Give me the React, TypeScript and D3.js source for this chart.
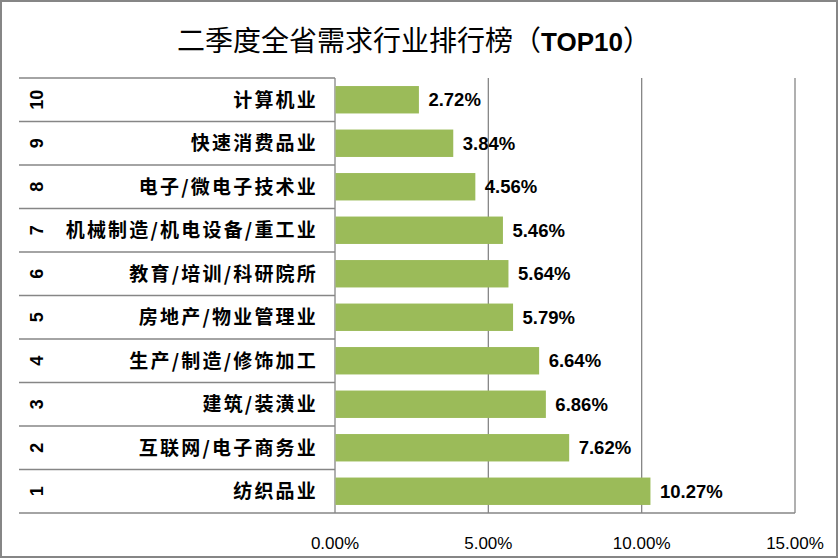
import React from "react";
import * as d3 from "d3";

const ranks = ["10", "9", "8", "7", "6", "5", "4", "3", "2", "1"];
const industries = [
  "计算机业",
  "快速消费品业",
  "电子/微电子技术业",
  "机械制造/机电设备/重工业",
  "教育/培训/科研院所",
  "房地产/物业管理业",
  "生产/制造/修饰加工",
  "建筑/装潢业",
  "互联网/电子商务业",
  "纺织品业",
];
const shares = [2.72, 3.84, 4.56, 5.46, 5.64, 5.79, 6.64, 6.86, 7.62, 10.27];
const xTicks = [0, 5, 10, 15];
const titleMain = "二季度全省需求行业排行榜（";
const titleBold = "TOP10";
const titleEnd = "）";

const W = 839;
const H = 559;
const plotLeft = 335;
const plotRight = 795;
const plotTop = 78;
const plotBottom = 513;
const catLeft = 19;

export default function App() {
  const x = d3.scaleLinear().domain([0, 15]).range([plotLeft, plotRight]);
  const y = d3
    .scaleBand<string>()
    .domain(ranks)
    .range([plotTop, plotBottom])
    .paddingInner(0.37)
    .paddingOuter(0.185);
  const rows = d3.scaleBand<string>().domain(ranks).range([plotTop, plotBottom]);
  const grid = "#868686";
  const cjk = "'Noto Sans CJK SC', 'Noto Sans', sans-serif";
  const latin = "'Liberation Sans', Arial, sans-serif";

  return (
    <svg
      width={W}
      height={H}
      style={{ position: "absolute", left: 0, top: 0, background: "#fff" }}
    >
      <rect x={1} y={1} width={W - 3} height={H - 3} fill="#fff" stroke={grid} strokeWidth={2} />
      <text x={414} y={51} textAnchor="middle" fontFamily={cjk} fontSize={28} fill="#000">
        {titleMain}
        <tspan fontFamily={latin} fontWeight="bold" fontSize={26}>{titleBold}</tspan>
        {titleEnd}
      </text>

      {/* gridlines */}
      {xTicks.slice(1).map((t) => (
        <line key={t} x1={x(t)} x2={x(t)} y1={plotTop} y2={plotBottom} stroke={grid} strokeWidth={1.3} />
      ))}
      {/* category row separators */}
      {ranks.map((r) => (
        <line key={r} x1={catLeft} x2={plotLeft} y1={rows(r)!} y2={rows(r)!} stroke={grid} strokeWidth={1.3} />
      ))}
      <line x1={catLeft} x2={plotRight} y1={plotBottom} y2={plotBottom} stroke={grid} strokeWidth={1.3} />
      <line x1={plotLeft} x2={plotLeft} y1={plotTop} y2={plotBottom} stroke={grid} strokeWidth={1.3} />

      {/* bars */}
      {ranks.map((r, i) => (
        <rect key={r} x={x(0) + 0.5} y={y(r)!} width={x(shares[i]) - x(0)} height={y.bandwidth()} fill="#9BBB59" />
      ))}
      {/* data labels */}
      {ranks.map((r, i) => (
        <text
          key={r}
          x={x(shares[i]) + 10}
          y={y(r)! + y.bandwidth() / 2}
          dy="0.35em"
          fontFamily={latin}
          fontWeight="bold"
          fontSize={18.5}
          fill="#000"
        >
          {shares[i].toFixed(2)}%
        </text>
      ))}
      {/* category labels */}
      {ranks.map((r, i) => {
        const cy = rows(r)! + rows.bandwidth() / 2;
        return (
          <g key={r}>
            <text
              transform={`translate(37,${cy}) rotate(-90)`}
              textAnchor="middle"
              dy="0.35em"
              fontFamily={latin}
              fontWeight="bold"
              fontSize={18}
              fill="#000"
            >
              {r}
            </text>
            <text
              x={318}
              y={cy}
              dy="0.36em"
              textAnchor="end"
              fontFamily={cjk}
              fontWeight="bold"
              fontSize={19}
              letterSpacing={2.2}
              fill="#000"
            >
              {industries[i]}
            </text>
          </g>
        );
      })}
      {/* x tick labels */}
      {xTicks.map((t) => (
        <text key={t} x={x(t)} y={543} dy="0.35em" textAnchor="middle" fontFamily={latin} fontSize={17} fill="#000">
          {t.toFixed(2)}%
        </text>
      ))}
    </svg>
  );
}
